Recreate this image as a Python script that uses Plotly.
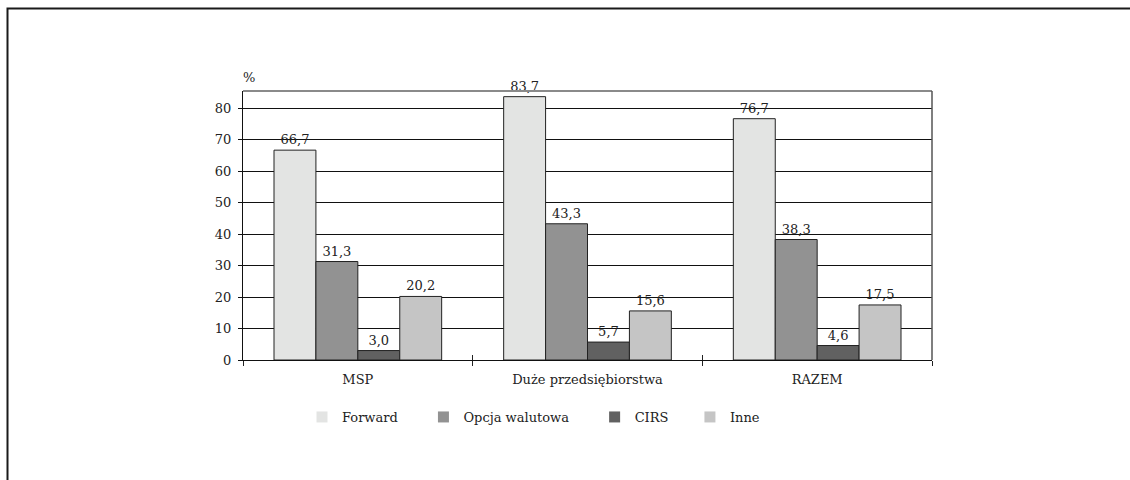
import plotly.graph_objects as go

# Grupy przedsiębiorstw i udział stosowanych instrumentów (%)
categories = ["MSP", "Duże przedsiębiorstwa", "RAZEM"]
series_names = ["Forward", "Opcja walutowa", "CIRS", "Inne"]
forward = [66.7, 83.7, 76.7]
opcja = [31.3, 43.3, 38.3]
cirs = [3.0, 5.7, 4.6]
inne = [20.2, 15.6, 17.5]
y_ticks = [0, 10, 20, 30, 40, 50, 60, 70, 80]

series_values = [forward, opcja, cirs, inne]
colors = ["#e3e4e3", "#929292", "#616161", "#c5c5c5"]
# trailing non-breaking spaces widen the gap after each legend entry
legend_pad = [5, 5, 4, 0]
FONT = "DejaVu Serif"
TXT = "#222222"

def fmt(v):
    return f"{v:.1f}".replace(".", ",")

L, R, T, B = 243, 198, 91, 120
W, H = 1130, 480
pw, ph = W - L - R, H - T - B

def px_x(px):
    return (px - L) / pw

def px_y(py):
    return (H - B - py) / ph

fig = go.Figure()

for name, vals, col in zip(series_names, series_values, colors):
    fig.add_trace(go.Bar(
        name=name, x=categories, y=vals,
        marker=dict(color=col, line=dict(color="#222222", width=1)),
        text=[fmt(v) for v in vals], textposition="outside",
        textfont=dict(family=FONT, size=13, color=TXT),
        outsidetextfont=dict(family=FONT, size=13, color=TXT),
        cliponaxis=False, showlegend=False, hoverinfo="x+y",
    ))

# Legend entries: plain squares without outline
for name, col, pad in zip(series_names, colors, legend_pad):
    fig.add_trace(go.Scatter(
        name=name + "\u00a0" * pad, x=[None], y=[None], mode="markers",
        marker=dict(symbol="square", size=11, color=col),
        showlegend=True, hoverinfo="skip",
    ))

# Helper trace on the overlay axis that draws the inward half of the category ticks
fig.add_trace(go.Scatter(
    x=categories, y=[0, 0, 0], xaxis="x2", mode="markers",
    marker=dict(opacity=0), showlegend=False, hoverinfo="skip",
))

fig.update_layout(
    width=W, height=H,
    margin=dict(l=L, r=R, t=T, b=B, pad=0),
    paper_bgcolor="white", plot_bgcolor="white",
    barmode="group", bargap=0.27, bargroupgap=0,
    font=dict(family=FONT, size=13, color=TXT),
    legend=dict(
        orientation="h", x=px_x(302), y=px_y(417), xanchor="left", yanchor="middle",
        font=dict(family="DejaVu Serif, Liberation Serif, serif", size=13, color=TXT,
                  weight="normal", style="normal"),
        bgcolor="rgba(0,0,0,0)", itemwidth=30, traceorder="normal",
    ),
    xaxis=dict(
        type="category", categoryorder="array", categoryarray=categories,
        tickson="boundaries", ticks="outside", ticklen=5, tickcolor="#222",
        showline=True, linecolor="#111", linewidth=1, showgrid=False,
        tickfont=dict(family=FONT, size=13, color=TXT),
        ticklabelstandoff=7, fixedrange=True,
    ),
    xaxis2=dict(
        type="category", overlaying="x", matches="x", anchor="y", side="bottom",
        tickson="boundaries", ticks="inside", ticklen=5, tickcolor="#222",
        showticklabels=False, showgrid=False, showline=False, zeroline=False,
    ),
    yaxis=dict(
        range=[0, 85.5], tickvals=y_ticks, ticks="outside", ticklen=4,
        tickcolor="#111", showline=True, linecolor="#111", linewidth=1,
        showgrid=True, gridcolor="#111", gridwidth=1, zeroline=False,
        tickfont=dict(family=FONT, size=13, color=TXT),
        ticklabelstandoff=4, fixedrange=True,
    ),
    annotations=[dict(
        text="%", xref="paper", yref="paper", x=px_x(249), y=px_y(78),
        xanchor="center", yanchor="middle", showarrow=False,
        font=dict(family=FONT, size=13, color=TXT),
    )],
    shapes=[
        # plot frame: top and right edges
        dict(type="line", xref="paper", yref="paper", x0=0, x1=1, y0=1, y1=1,
             line=dict(color="#8a8a8a", width=2)),
        dict(type="line", xref="paper", yref="paper", x0=1, x1=1, y0=0, y1=1,
             line=dict(color="#555555", width=1.5)),
        # outer page frame
        dict(type="rect", xref="paper", yref="paper",
             x0=px_x(7.5), x1=px_x(1140), y0=px_y(490), y1=px_y(8.5),
             line=dict(color="#1a1a1a", width=2), layer="below"),
    ],
)

fig.write_html("out.html")
